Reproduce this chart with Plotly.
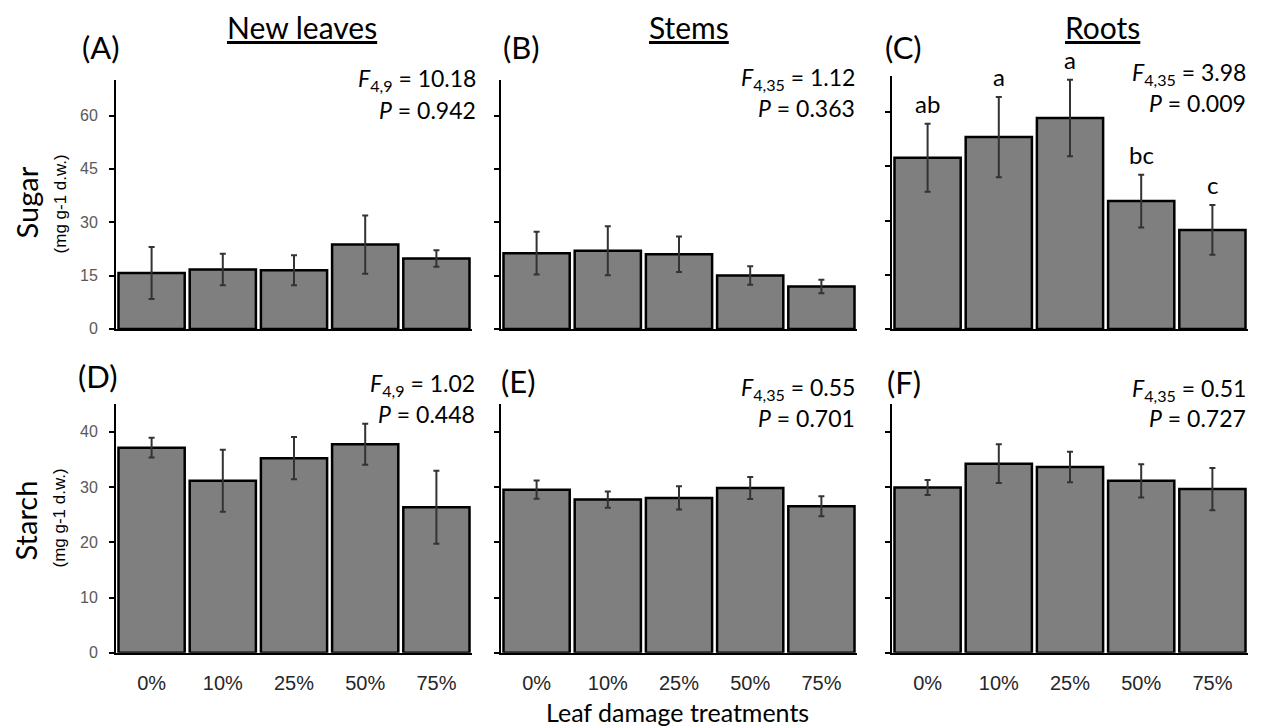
import plotly.graph_objects as go

categories = ["0%", "10%", "25%", "50%", "75%"]

sugar_leaves = [15.7, 16.7, 16.5, 23.7, 19.8]
sugar_leaves_err = [7.3, 4.4, 4.2, 8.2, 2.3]
sugar_stems = [21.3, 22.0, 21.0, 15.0, 11.9]
sugar_stems_err = [6.0, 6.9, 5.0, 2.6, 1.9]
sugar_roots = [47.4, 53.1, 58.4, 35.4, 27.4]
sugar_roots_err = [9.4, 11.1, 10.6, 7.3, 6.9]

starch_leaves = [37.1, 31.1, 35.2, 37.7, 26.3]
starch_leaves_err = [1.8, 5.6, 3.8, 3.7, 6.6]
starch_stems = [29.5, 27.7, 28.0, 29.8, 26.5]
starch_stems_err = [1.65, 1.45, 2.1, 2.0, 1.8]
starch_roots = [29.9, 34.2, 33.6, 31.1, 29.6]
starch_roots_err = [1.35, 3.5, 2.75, 3.0, 3.8]

roots_letters = ["ab", "a", "a", "bc", "c"]

panel_labels = ["(A)", "(B)", "(C)", "(D)", "(E)", "(F)"]
column_titles = ["New leaves", "Stems", "Roots"]
f_stats = ["<i>F</i><sub>4,9</sub> = 10.18", "<i>F</i><sub>4,35</sub> = 1.12", "<i>F</i><sub>4,35</sub> = 3.98",
           "<i>F</i><sub>4,9</sub> = 1.02", "<i>F</i><sub>4,35</sub> = 0.55", "<i>F</i><sub>4,35</sub> = 0.51"]
p_stats = ["<i>P</i> = 0.942", "<i>P</i> = 0.363", "<i>P</i> = 0.009",
           "<i>P</i> = 0.448", "<i>P</i> = 0.701", "<i>P</i> = 0.727"]

sugar_ticks = [0, 15, 30, 45, 60]
starch_ticks = [0, 10, 20, 30, 40]

W, H = 1262, 728
def px(x):
    return x / W
def py(y):
    return 1 - y / H

col_x = [(116, 472), (501, 857), (892, 1248)]
row_y = [(81, 333), (409, 661)]

series = [
    (sugar_leaves, sugar_leaves_err), (sugar_stems, sugar_stems_err), (sugar_roots, sugar_roots_err),
    (starch_leaves, starch_leaves_err), (starch_stems, starch_stems_err), (starch_roots, starch_roots_err),
]

CAL = "Lato, 'Open Sans', sans-serif"
ARI = "'Liberation Sans', Arial, sans-serif"

fig = go.Figure()
layout = {}
for i, (vals, errs) in enumerate(series):
    r, c = divmod(i, 3)
    n = i + 1
    xa = "x" if n == 1 else f"x{n}"
    ya = "y" if n == 1 else f"y{n}"
    fig.add_trace(go.Bar(
        x=categories, y=vals, xaxis=xa, yaxis=ya,
        marker=dict(color="#7f7f7f", line=dict(color="black", width=2.5)),
        error_y=dict(type="data", array=errs, visible=True, color="#333333", thickness=2, width=3),
        showlegend=False,
    ))
    kx = "xaxis" if n == 1 else f"xaxis{n}"
    ky = "yaxis" if n == 1 else f"yaxis{n}"
    x0, x1 = col_x[c]
    y0, y1 = row_y[r]
    if i == 2:
        y0 = 77
    layout[kx] = dict(
        domain=[px(x0), px(x1)], anchor=ya, range=[-0.5, 4.5],
        showline=True, linecolor="black", linewidth=2, showgrid=False, zeroline=False,
        ticks="outside", ticklen=11, tickcolor="rgba(0,0,0,0)",
        showticklabels=(r == 1), tickfont=dict(family=ARI, size=20, color="#262626"),
    )
    layout[ky] = dict(
        domain=[py(y1), py(y0)], anchor=xa,
        range=[0, 70] if r == 0 else [0, 45],
        tickvals=sugar_ticks if r == 0 else starch_ticks,
        showline=True, linecolor="black", linewidth=2, showgrid=False, zeroline=False,
        ticks="outside", ticklen=5, tickwidth=2, tickcolor="black",
        ticklabelstandoff=8,
        showticklabels=(c == 0), tickfont=dict(family=ARI, size=16, color="#595959"),
    )

fig.update_layout(**layout)
fig.update_layout(bargap=0.07)

ann = []
label_pos = [(101, 48), (521, 48), (903, 48), (98, 381), (518, 386), (904, 387)]
for t, (x, y) in zip(panel_labels, label_pos):
    ann.append(dict(text=t, x=px(x), y=py(y), xref="paper", yref="paper", showarrow=False,
                    xanchor="center", yanchor="middle", font=dict(family=CAL, size=31, color="black")))

title_pos = [(302, 27), (689, 27), (1102, 27)]
for t, (x, y) in zip(column_titles, title_pos):
    ann.append(dict(text=f"<u>{t}</u>", x=px(x), y=py(y), xref="paper", yref="paper", showarrow=False,
                    xanchor="center", yanchor="middle", font=dict(family=CAL, size=30, color="black")))

stat_pos = [(478, 81, 111), (857, 79, 109), (1248, 74, 104), (477, 389, 419), (857, 393, 423), (1248, 394, 423)]
for f, p, (x, yf, yp) in zip(f_stats, p_stats, stat_pos):
    ann.append(dict(text=f, x=px(x), y=py(yf), xref="paper", yref="paper", showarrow=False,
                    xanchor="right", yanchor="middle", font=dict(family=CAL, size=23, color="black")))
    ann.append(dict(text=p, x=px(x), y=py(yp), xref="paper", yref="paper", showarrow=False,
                    xanchor="right", yanchor="middle", font=dict(family=CAL, size=23, color="black")))

for cat, v, e, lab in zip(categories, sugar_roots, sugar_roots_err, roots_letters):
    ann.append(dict(text=lab, x=cat, y=v + e, xref="x3", yref="y3", showarrow=False,
                    xanchor="center", yanchor="bottom", yshift=4, font=dict(family=CAL, size=24, color="black")))

# y axis titles
ann.append(dict(text="Sugar", x=px(26), y=py(205), xref="paper", yref="paper", showarrow=False, textangle=-90,
                xanchor="center", yanchor="middle", font=dict(family=CAL, size=29, color="black")))
ann.append(dict(text="(mg g-1 d.w.)", x=px(60), y=py(207), xref="paper", yref="paper", showarrow=False, textangle=-90,
                xanchor="center", yanchor="middle", font=dict(family=ARI, size=17, color="black")))
ann.append(dict(text="Starch", x=px(25), y=py(527), xref="paper", yref="paper", showarrow=False, textangle=-90,
                xanchor="center", yanchor="middle", font=dict(family=CAL, size=29, color="black")))
ann.append(dict(text="(mg g-1 d.w.)", x=px(60), y=py(525), xref="paper", yref="paper", showarrow=False, textangle=-90,
                xanchor="center", yanchor="middle", font=dict(family=ARI, size=17, color="black")))
ann.append(dict(text="Leaf damage treatments", x=px(677), y=py(721), xref="paper", yref="paper", showarrow=False,
                xanchor="center", yanchor="middle", font=dict(family=CAL, size=25, color="black")))

fig.update_layout(
    width=W, height=H, margin=dict(l=0, r=0, t=0, b=0),
    paper_bgcolor="white", plot_bgcolor="white",
    annotations=ann,
)

fig.write_html("out.html", config={"displayModeBar": False},
               post_script="document.body.style.margin='0';document.body.style.overflow='hidden';")
